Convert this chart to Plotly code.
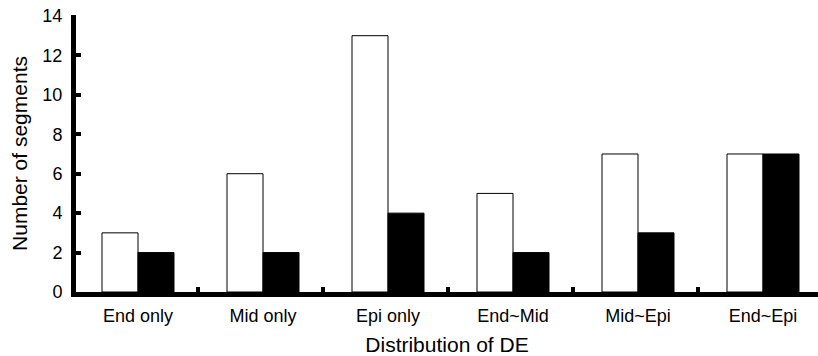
import plotly.graph_objects as go

categories = ["End only", "Mid only", "Epi only", "End~Mid", "Mid~Epi", "End~Epi"]
white_values = [3, 6, 13, 5, 7, 7]
black_values = [2, 2, 4, 2, 3, 7]
y_ticks = [0, 2, 4, 6, 8, 10, 12, 14]

xpos = list(range(len(categories)))
boundaries = [k + 0.48 for k in range(len(categories) - 1)]

fig = go.Figure()
fig.add_trace(go.Bar(x=xpos, y=white_values, marker=dict(color="white", line=dict(color="black", width=1)),
                     showlegend=False))
fig.add_trace(go.Bar(x=xpos, y=black_values, marker=dict(color="black", line=dict(color="black", width=1)),
                     showlegend=False))
# invisible trace for the category-boundary tick axis
fig.add_trace(go.Scatter(x=[0.5], y=[0], xaxis="x2", mode="markers", marker=dict(opacity=0),
                         showlegend=False, hoverinfo="skip"))

font = "Liberation Sans, Arial, sans-serif"
xr = [-0.496, 5.44]
fig.update_layout(
    width=818, height=356,
    margin=dict(l=76, r=0, t=15, b=64),
    plot_bgcolor="white", paper_bgcolor="white",
    barmode="group", bargap=0.424, bargroupgap=0,
    font=dict(family=font, size=18, color="black"),
    xaxis=dict(range=xr, tickvals=xpos, ticktext=categories, showgrid=False, zeroline=False,
               showline=True, linecolor="black", linewidth=5, ticks="", tickfont=dict(size=18),
               automargin=False, ticklabelstandoff=3,
               title=dict(text="Distribution of DE", font=dict(size=21), standoff=19)),
    xaxis2=dict(range=xr, overlaying="x", anchor="y", side="bottom", tickvals=boundaries,
                showticklabels=False, ticks="inside", ticklen=5, tickwidth=4, tickcolor="black",
                showgrid=False, zeroline=False, showline=False, automargin=False),
    yaxis=dict(range=[0, 14.05], tickvals=y_ticks, showgrid=False, zeroline=False,
               showline=True, linecolor="black", linewidth=5, ticks="inside", ticklen=5, tickwidth=4,
               tickcolor="black", tickfont=dict(size=18), automargin=False, ticklabelstandoff=5,
               title=dict(text="Number of segments", font=dict(size=21), standoff=11)),
)
fig.write_html("out.html", config={"displayModeBar": False},
               post_script="document.body.style.margin='0';document.body.style.overflow='hidden';")
